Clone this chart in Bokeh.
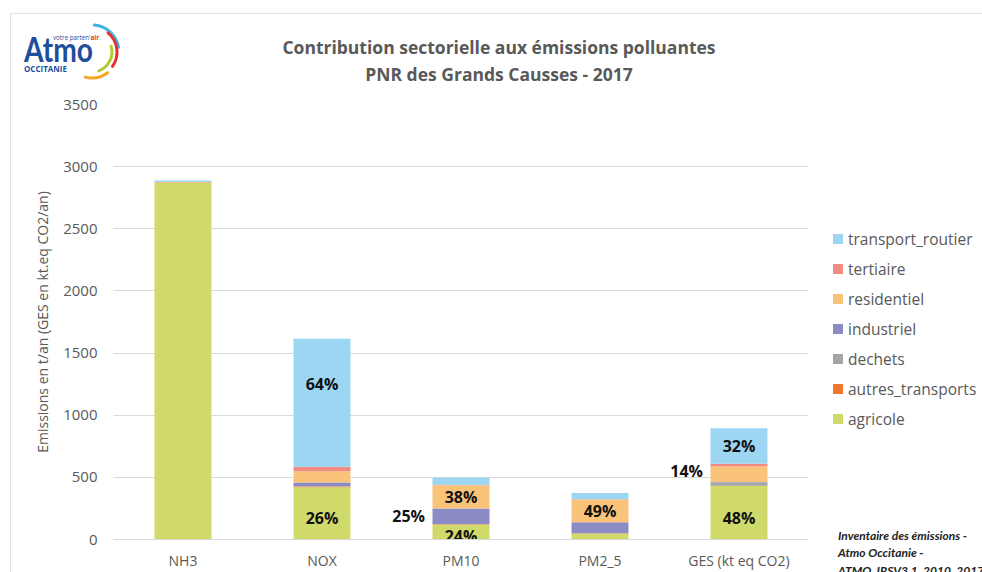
import math
from bokeh.plotting import figure
from bokeh.models import FactorRange, Range1d, ColumnDataSource, Div
from bokeh.layouts import column
from bokeh.embed import file_html
from bokeh.resources import INLINE
from bokeh.core.properties import value

# ---------------- data ----------------
categories = ["NH3", "NOX", "PM10", "PM2_5", "GES (kt eq CO2)"]
series = ["agricole", "autres_transports", "dechets", "industriel",
          "residentiel", "tertiaire", "transport_routier"]
agricole = [2870, 420, 118, 48, 430]
autres_transports = [2, 6, 5, 2, 3]
dechets = [0, 3, 1, 1, 26]
industriel = [1, 30, 125, 88, 3]
residentiel = [2, 90, 188, 182, 125]
tertiaire = [1, 36, 3, 3, 22]
transport_routier = [12, 1030, 57, 50, 286]
y_ticks = [0, 500, 1000, 1500, 2000, 2500, 3000, 3500]

title_lines = ["Contribution sectorielle aux émissions polluantes",
               "PNR des Grands Causses - 2017"]
source_note = ["Inventaire des émissions -", "Atmo Occitanie -",
               "ATMO_IRSV3.1_2010_2017"]

# percentage labels shown: (category, series)
label_cat = ["NOX", "NOX", "PM10", "PM10", "PM10", "PM2_5",
             "GES (kt eq CO2)", "GES (kt eq CO2)", "GES (kt eq CO2)"]
label_ser = ["transport_routier", "agricole", "residentiel", "industriel",
             "agricole", "residentiel", "transport_routier", "residentiel",
             "agricole"]

# styles
colors = {"agricole": "#CFDA6A", "autres_transports": "#F0772B",
          "dechets": "#A6A6A6", "industriel": "#8B8BC6",
          "residentiel": "#F9C479", "tertiaire": "#F28B82",
          "transport_routier": "#9DD6F2"}
label_outside = [False, False, False, True, False, False, False, True, False]
label_dy = [-19, 5, 0, 0, 4, 0, 0, -3, 5]
GREY = "#595959"
FONT = "Open Sans"

data = {"cat": categories}
for name in series:
    data[name] = globals()[name]
source = ColumnDataSource(data)

W = 982
HH = 88
PH = 572 - HH

# ---------------- header (logo + title) as inline SVG ----------------
def arc_path(cx, cy, r, a1, a2):
    x1 = cx + r * math.cos(math.radians(a1))
    y1 = cy - r * math.sin(math.radians(a1))
    x2 = cx + r * math.cos(math.radians(a2))
    y2 = cy - r * math.sin(math.radians(a2))
    return f"M{x1:.1f},{y1:.1f} A{r},{r} 0 0 0 {x2:.1f},{y2:.1f}"

arcs = [(27, 10, 85, "#3EB5E5"), (25, -35, 50, "#E4312F"),
        (20, -70, 17, "#B2CB35"), (26, -105, -53, "#F5A623")]
arc_svg = "".join(
    f'<path d="{arc_path(92, 52, r, a1, a2)}" fill="none" stroke="{c}" '
    f'stroke-width="3" stroke-linecap="round"/>' for r, a1, a2, c in arcs)

header_html = f"""
<svg width="{W}" height="{HH}" xmlns="http://www.w3.org/2000/svg" style="display:block">
  <line x1="10" y1="13.5" x2="{W}" y2="13.5" stroke="#E3E3E3" stroke-width="1"/>
  <line x1="10.5" y1="13" x2="10.5" y2="{HH}" stroke="#E3E3E3" stroke-width="1"/>
  {arc_svg}
  <text x="24" y="62" style="font-family:Lato;font-weight:bold;font-size:34px"
        fill="#1F4E9C" textLength="69" lengthAdjust="spacingAndGlyphs">Atmo</text>
  <text x="53" y="40" style="font-family:'Open Sans';font-size:7.5px"
        fill="#1F4E9C" textLength="46" lengthAdjust="spacingAndGlyphs">votre parten'<tspan fill="#E4312F" style="font-weight:bold">air</tspan></text>
  <text x="24" y="71.5" style="font-family:'Open Sans';font-weight:bold;font-size:9px"
        fill="#1F4E9C" textLength="43" lengthAdjust="spacingAndGlyphs">OCCITANIE</text>
  <text x="499" y="54" text-anchor="middle"
        style="font-family:'Open Sans';font-weight:bold;font-size:17.5px"
        fill="{GREY}">{title_lines[0]}</text>
  <text x="499" y="81" text-anchor="middle"
        style="font-family:'Open Sans';font-weight:bold;font-size:17.5px"
        fill="{GREY}">{title_lines[1]}</text>
</svg>
"""
header = Div(text=header_html, width=W, height=HH, margin=0,
             styles={"padding": "0"})

# ---------------- main chart ----------------
p = figure(x_range=FactorRange(*categories, range_padding=0),
           y_range=Range1d(0, 3500), width=W, height=PH,
           output_backend="svg", toolbar_location=None,
           min_border_left=113, min_border_right=174,
           min_border_top=16, min_border_bottom=31)
p.outline_line_color = None

renderers = p.vbar_stack(series, x="cat", width=0.41, source=source,
                         color=[colors[s] for s in series], line_color=None)

# percentage labels computed from data
lx, ly, lt = [], [], []
for c, s in zip(label_cat, label_ser):
    i = categories.index(c)
    base = sum(data[n][i] for n in series[:series.index(s)])
    seg = data[s][i]
    total = sum(data[n][i] for n in series)
    lx.append(c)
    ly.append(base + seg / 2)
    lt.append(f"{round(seg / total * 100)}%")
for k in range(len(lx)):
    p.text(x=[lx[k]], y=[ly[k]], text=[lt[k]],
           text_font=value(FONT), text_font_style="bold",
           text_font_size="16px", text_color="#111111",
           text_align="right" if label_outside[k] else "center",
           text_baseline="middle",
           x_offset=-36 if label_outside[k] else 0, y_offset=label_dy[k])

# axes
for ax in (p.xaxis, p.yaxis):
    ax.major_tick_line_color = None
    ax.minor_tick_line_color = None
    ax.major_tick_out = 0
    ax.major_tick_in = 0
    ax.minor_tick_out = 0
    ax.minor_tick_in = 0

p.yaxis.ticker = y_ticks
p.yaxis.axis_line_color = None
p.yaxis.major_label_standoff = 16
p.yaxis.major_label_text_font = FONT
p.yaxis.major_label_text_font_size = "15px"
p.yaxis.major_label_text_color = GREY
p.yaxis.axis_label = "Emissions en t/an (GES en kt.eq CO2/an)"
p.yaxis.axis_label_text_font = FONT
p.yaxis.axis_label_text_font_size = "14px"
p.yaxis.axis_label_text_font_style = "normal"
p.yaxis.axis_label_text_color = GREY
p.yaxis.axis_label_standoff = 8

p.xaxis.axis_line_color = "#D9D9D9"
p.xaxis.major_label_standoff = 11
p.xaxis.major_label_text_font = FONT
p.xaxis.major_label_text_font_size = "14px"
p.xaxis.major_label_text_color = GREY

p.xgrid.grid_line_color = None
p.ygrid.grid_line_color = "#D9D9D9"

# overlay: left border line, legend (top-first order), source note
top = HH  # overlay starts at the chart's top edge
legend_svg = "".join(
    f'<rect x="833" y="{234 - top + 30 * i}" width="10" height="10" fill="{colors[s]}"/>'
    f'<text x="848" y="{244.5 - top + 30 * i}" style="font-family:\'Open Sans\';'
    f'font-size:15.5px" fill="{GREY}">{s}</text>'
    for i, s in enumerate(series[::-1]))
note_svg = "".join(
    f'<text x="838" y="{539.5 - top + 17.5 * i}" style="font-family:Lato;font-weight:bold;'
    f'font-style:italic;font-size:12px" fill="#222222">{t}</text>'
    for i, t in enumerate(source_note))
overlay = Div(text=f'<svg width="{W}" height="{PH}" xmlns="http://www.w3.org/2000/svg" '
                   f'style="display:block">'
                   f'<line x1="10.5" y1="0" x2="10.5" y2="{PH}" stroke="#E3E3E3" stroke-width="1"/>'
                   f'{legend_svg}{note_svg}</svg>',
              width=W, height=PH, margin=(-PH, 0, 0, 0),
              styles={"padding": "0", "overflow": "hidden",
                      "pointer-events": "none"})

layout = column(header, p, overlay, spacing=0)
open("out.html", "w").write(file_html(layout, INLINE))
